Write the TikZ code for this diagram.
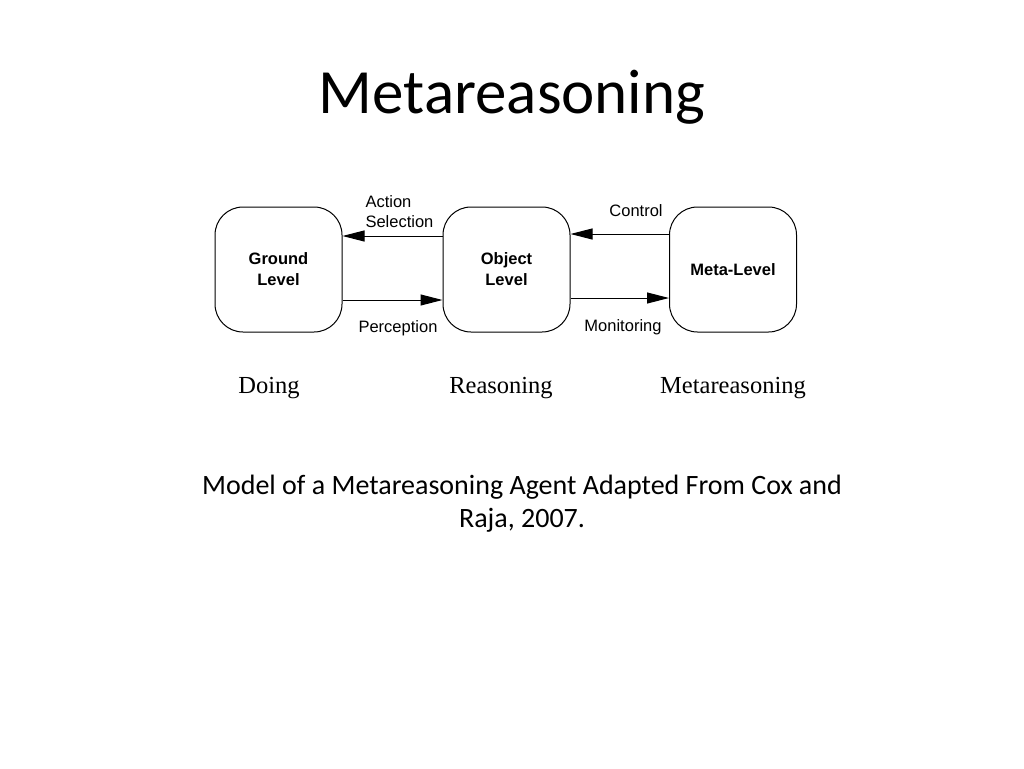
\documentclass[tikz,border=0pt]{standalone}
\usepackage{fontspec}
\setmainfont{Carlito}
\newfontfamily\arialf{Liberation Sans}
\newfontfamily\timesf{Liberation Serif}
\usetikzlibrary{arrows.meta}
\begin{document}
\begin{tikzpicture}[x=1pt,y=-1pt,
  lvl/.style={draw,line width=1pt,rounded corners=28pt,minimum width=127pt,minimum height=125pt,font=\arialf\bfseries\fontsize{16.5}{21}\selectfont,align=center},
  arr/.style={-{Triangle[length=22pt,width=11pt]},line width=1pt},
  lab/.style={font=\arialf\fontsize{16.5}{20}\selectfont},
  captxt/.style={font=\timesf\fontsize{24.5}{28}\selectfont}]
\useasboundingbox (0,0) rectangle (1024,768);
\node[font=\fontsize{63}{70}\selectfont] (t) at (512,97) {Metareasoning};
\node[lvl] (g) at (278.5,269.5) {Ground\\Level};
\node[lvl] (o) at (506.5,269.5) {Object\\Level};
\node[lvl] (m) at (733,269.5) {Meta-Level};
\draw[arr] (o.west|-0,236) -- (g.east|-0,236);
\draw[arr] (g.east|-0,300) -- (o.west|-0,300);
\draw[arr] (m.west|-0,234) -- (o.east|-0,234);
\draw[arr] (o.east|-0,298) -- (m.west|-0,298);
\node[lab,align=left,anchor=west] (as) at (362,212) {Action\\Selection};
\node[lab] (pe) at (398,328) {Perception};
\node[lab] (co) at (636,211) {Control};
\node[lab] (mo) at (623,327) {Monitoring};
\node[captxt] (d) at (269,388) {Doing};
\node[captxt] (r) at (501,388) {Reasoning};
\node[captxt] (mr) at (733,388) {Metareasoning};
\node[font=\fontsize{28}{33}\selectfont,align=center] (c) at (522,504) {Model of a Metareasoning Agent Adapted From Cox and\\Raja, 2007.};
\end{tikzpicture}
\end{document}
